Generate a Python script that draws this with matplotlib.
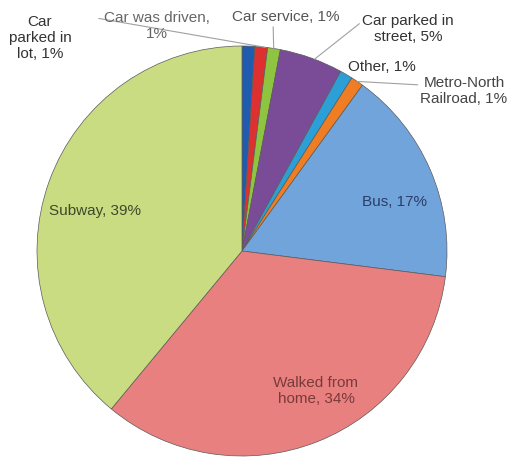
import numpy as np
import matplotlib
matplotlib.use("Agg")
import matplotlib.pyplot as plt

plt.rcParams['font.family'] = ['Liberation Sans', 'DejaVu Sans']

# commute mode shares, clockwise from 12 o'clock
modes = ["Car parked in lot", "Car was driven", "Car service", "Car parked in street",
         "Other", "Metro-North Railroad", "Bus", "Walked from home", "Subway"]
shares = [1, 1, 1, 5, 1, 1, 17, 34, 39]
colors = ["#1f5cb0", "#dd3030", "#8fc440", "#7a4c98", "#2c9fd6",
          "#ee7d24", "#72a4dc", "#e98080", "#c9dc82"]

W, H = 513, 458
fig = plt.figure(figsize=(W / 100, H / 100), dpi=100)
cx, cy, r = 242, 251, 205
ax = fig.add_axes([(cx - r) / W, (H - cy - r) / H, 2 * r / W, 2 * r / H])

wedges, _ = ax.pie(shares, colors=colors, startangle=90, counterclock=False,
                   radius=1, wedgeprops=dict(edgecolor="#5a5a5a", linewidth=0.5))
ax.set_xlim(-1, 1)
ax.set_ylim(-1, 1)
ax.set_aspect("auto")
ax.axis("off")


def to_data(px, py):
    return ((px - cx) / r, (cy - py) / r)


def edge_point(w, frac=0.5, rad=1.0):
    ang = np.deg2rad(w.theta1 + (w.theta2 - w.theta1) * frac)
    return (rad * np.cos(ang), rad * np.sin(ang))


fs = 11
ls = 1.2
# labels placed inside the big slices
ax.text(*to_data(95, 211), f"{modes[8].split()[0]}, {shares[8]}%", fontsize=fs,
        color="#3d4a2a", ha="center", va="center")
ax.text(*to_data(395, 202), f"{modes[6]}, {shares[6]}%", fontsize=fs,
        color="#2a3e66", ha="center", va="center")
ax.text(*to_data(316, 391), f"Walked from\nhome, {shares[7]}%", fontsize=fs,
        color="#7a3a3a", ha="center", va="center", linespacing=ls)

# small slices get outside labels with leader lines
line_kw = dict(arrowstyle="-", color="#a0a0a0", lw=0.8, shrinkA=0, shrinkB=0)
ax.text(*to_data(40, 38), f"Car\nparked in\nlot, {shares[0]}%", fontsize=fs,
        color="#333333", ha="center", va="center", linespacing=ls)
ax.annotate(f"Car was driven,\n{shares[1]}%", xy=edge_point(wedges[1], 0.2),
            xytext=to_data(157, 26), fontsize=fs, color="#666666",
            ha="center", va="center", linespacing=ls,
            arrowprops=dict(relpos=(-0.05, 0.75), **line_kw))
ax.annotate(f"Car service, {shares[2]}%", xy=edge_point(wedges[2], 0.5, 0.99),
            xytext=to_data(286, 17), fontsize=fs, color="#555555",
            ha="center", va="center",
            arrowprops=dict(relpos=(0.38, 0.0), **line_kw))
ax.annotate(f"Car parked in\nstreet, {shares[3]}%", xy=edge_point(wedges[3], 0.45),
            xytext=to_data(408, 29), fontsize=fs, color="#333333",
            ha="center", va="center", linespacing=ls,
            arrowprops=dict(relpos=(0.0, 0.75), **line_kw))
ax.text(*to_data(382, 67), f"{modes[4]}, {shares[4]}%", fontsize=fs,
        color="#333333", ha="center", va="center")
ax.annotate(f"Metro-North\nRailroad, {shares[5]}%", xy=edge_point(wedges[5], 0.5),
            xytext=to_data(464, 91), fontsize=fs, color="#444444",
            ha="center", va="center", linespacing=ls,
            arrowprops=dict(relpos=(0.0, 0.7), **line_kw))

fig.savefig("out.png", dpi=100, facecolor="white")
